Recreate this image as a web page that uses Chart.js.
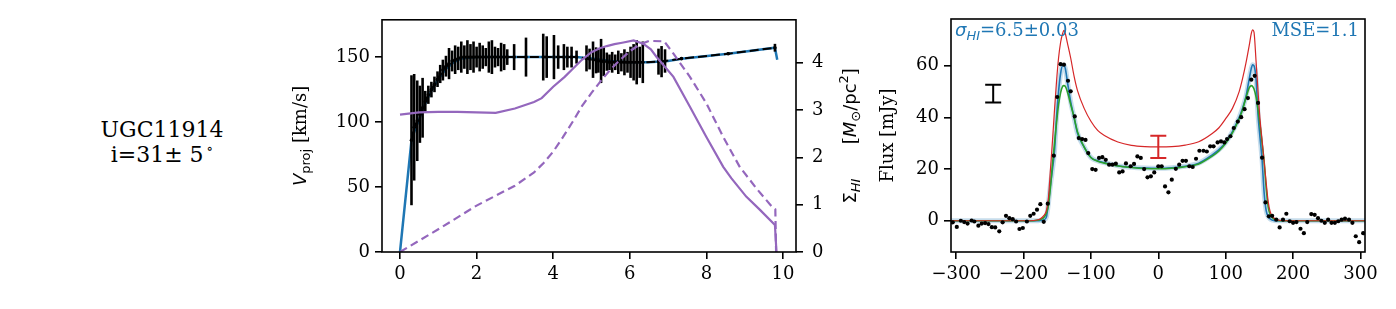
<!DOCTYPE html>
<html>
<head>
<meta charset="utf-8">
<script src="https://cdn.jsdelivr.net/npm/chart.js@4.4.0/dist/chart.umd.min.js"></script>
<style>
html, body { margin: 0; padding: 0; background: #fff; }
body { width: 1396px; height: 309px; position: relative; overflow: hidden; font-family: "DejaVu Serif", serif; }
#label { position: absolute; left: 60px; top: 117px; width: 204px; text-align: center; font-size: 22px; line-height: 25px; color: #000; }
#label .deg { font-size: 14px; position: relative; top: -9px; }
.box { position: absolute; top: 0; height: 309px; }
#rcBox { left: 280px; width: 600px; }
#fluxBox { left: 860px; width: 536px; }
</style>
</head>
<body>
<div id="label">UGC11914<br>i=31± 5<span class="deg">&thinsp;∘</span></div>
<div class="box" id="rcBox"><canvas id="rcChart" width="600" height="309"></canvas></div>
<div class="box" id="fluxBox"><canvas id="fluxChart" width="536" height="309"></canvas></div>
<script>
// rotation curve: observed points with error bars
var rcRadius = [0.30,0.37,0.45,0.52,0.59,0.66,0.74,0.82,0.90,0.98,1.05,1.12,1.20,1.28,1.36,1.44,1.52,1.60,1.68,1.76,1.84,1.92,2.00,2.08,2.16,2.24,2.32,2.40,2.48,2.56,2.64,2.72,2.80,2.98,3.29,3.74,3.83,4.02,4.13,4.28,4.37,4.48,4.61,4.87,4.95,5.04,5.12,5.18,5.25,5.32,5.40,5.47,5.54,5.62,5.70,5.78,5.86,5.94,6.02,6.10,6.18,6.26,6.34,6.75,6.83,6.92,7.35,8.57,9.79];
var rcVel = [86,96,101,106,111,116,121,125,129,133,137,140,143,145,147,148,149,150,150,150,150,150,150,150,150,150,150,150,150,150,150,150,150,150,150,150,150,150,150,150,150,150,150,149,148.5,148,147.5,147,147,146.5,146.5,146,146,146,146,146,146,146,146,146,146,146,146,146.5,146.5,147,148.8,152.6,157.2];
var rcErr = [50,41,31,22,23,8,7,6,6,6,7,8,8,12,8,11,9,12,9,13,10,12,8,11,9,7,12,13,8,7,11,10,6,10,15,18,16,17,9,10,8,8,5,10,8,14,10,9,17,11,7,6,8,6,9,7,10,8,12,14,17,12,16,10,12,9,1,1,3];

// rotation curve model
var modelRadius = [0,0.30,0.40,0.50,0.60,0.70,0.80,0.90,1.00,1.10,1.20,1.40,1.60,2.00,3.00,4.00,4.60,5.00,5.50,6.00,6.50,7.00,7.35,8.57,9.79,9.85];
var modelVel = [0,86,95,102,110,117,123,128,133,137,141,146,149,150,150,150,150,149,147,146,146,147,148.8,152.6,157.2,148];

// HI surface density profiles (right axis)
var sigmaRadius = [0,0.50,1.00,1.50,2.00,2.50,3.00,3.50,3.70,4.00,4.30,4.50,4.75,5.00,5.20,5.40,5.60,5.80,6.10,6.35,6.55,6.70,6.90,7.14,7.57,8.00,8.44,8.65,9.04,9.40,9.79,9.83];
var sigmaHI = [2.90,2.95,2.96,2.96,2.95,2.94,3.03,3.17,3.25,3.49,3.70,3.86,4.06,4.22,4.30,4.35,4.39,4.42,4.47,4.40,4.28,4.12,3.93,3.70,3.07,2.43,1.80,1.56,1.17,0.89,0.57,0];
var sigmaRadius2 = [0,1.00,2.00,2.50,3.00,3.50,3.75,4.00,4.25,4.50,4.75,5.00,5.25,5.50,5.75,6.00,6.25,6.50,6.90,7.14,7.57,8.00,8.44,8.87,9.30,9.74,9.80,9.82];
var sigmaHI2 = [0,0.48,0.98,1.19,1.40,1.68,1.88,2.12,2.42,2.74,3.08,3.36,3.62,3.86,4.06,4.24,4.38,4.46,4.45,4.19,3.70,3.14,2.43,1.80,1.35,0.93,0.90,0];

// HI line profile: observed channels
var fluxVel = [-305,-299,-293,-288,-283,-277,-273,-267,-262,-257,-252,-247,-242,-236,-231,-226,-221,-216,-211,-206,-201,-195,-190,-185,-180,-175,-170,-164,-155,-150,-145,-140,-134,-130,-124,-118,-113,-108,-104,-98,-93,-88,-83,-78,-73,-68,-63,-58,-53,-48,-41,-36,-31,-26,-21,-16,-11,-6,0,5,10,15,20,26,31,36,41,46,51,56,61,67,72,77,82,88,93,98,102,107,112,118,123,128,133,138,143,148,154,159,164,169,175,180,185,190,195,200,205,211,216,221,227,232,237,242,247,252,257,262,267,272,277,283,288,293,298,304];
var fluxObs = [-0.6,-2.4,0.0,-0.5,-1.1,0.1,-0.3,-1.9,-1.1,-0.9,-1.3,-2.5,-2.6,-4.1,-0.6,1.9,1.0,0.6,-0.3,-3.2,-2.8,-0.3,1.9,2.7,4.3,6.4,-0.4,6.6,25.2,47.9,60.6,60.4,54.2,50.1,40.4,32.0,31.6,31.3,26.2,20.0,19.7,24.3,24.6,23.6,21.7,21.7,22.1,18.7,19.1,22.2,21.1,22.0,24.9,24.3,20.0,16.8,17.2,18.7,21.1,21.1,13.3,11.0,15.9,20.1,21.7,23.2,23.2,21.1,20.8,24.0,27.1,27.1,26.8,28.8,28.8,30.3,30.7,30.3,31.6,32.7,35.9,38.4,40.1,43.2,47.5,54.6,56.1,45.6,24.4,7.1,1.7,1.9,0.4,-2.6,0.4,2.7,-0.2,-0.8,-0.5,-3.1,-4.8,-0.5,2.6,2.3,1.0,0.0,-0.8,0.4,-0.8,-0.8,-0.2,0.4,0.8,0.4,-0.8,-6.0,-8.3,-4.8];

// HI line profile: model curves
var profVel = [-308,-190,-180,-175,-170,-166,-163,-160,-157,-154,-151,-148,-145,-142,-140,-138,-135,-130,-125,-120,-110,-100,-90,-80,-60,-40,-20,0,20,40,60,80,90,100,110,120,125,130,135,138,140,142,145,148,151,154,157,160,163,166,170,175,180,190,307];
var profRed = [0,0,0.3,0.8,2,4,9,20,31,43,54,63,69,72.5,73.7,72.5,69,63,56,50.5,43.5,38.5,35,33,30.5,29.2,28.7,28.6,28.7,29.3,30.6,33.8,36,39.5,43.5,50,55,61,68,72.5,73.9,73,62,50,39,31,23,15,7.5,3.5,1.5,0.5,0.2,0,0];
var profBlue = [0,0,0,0.1,0.3,1.5,7,14,20,27,40,50,57,60,60,59,54,46,40,34,28.5,24.5,23.2,22.5,21.3,20.7,20.4,20.3,20.5,21.1,22.3,25.5,27.5,30.3,34.5,40,43.5,48,55,59,60.4,60,55,41,32,23.5,11,4,1.7,0.7,0.2,0,0,0,0];
var profGreen = [0,0,0.2,0.5,1.2,3,6,13,22,30,38,45,49.5,52,52.3,52,50,45,40,34.5,28.5,24.5,23,22.3,21.2,20.6,20.2,20.1,20.3,20.9,22,25,27,30,34,39.5,43,47.5,51.5,52.3,52,51,48,43,37,30,23,13,5.5,2.5,1,0.3,0,0,0];

// noise error bars drawn on the profile panel
var noiseVel = [-245, 0];
var noiseFlux = [49.2, 28.6];
var noiseHalf = [3.4, 4.3];

// tick labels
var rcXTicks = [0, 2, 4, 6, 8, 10];
var rcYTicks = [0, 50, 100, 150];
var sigmaTicks = [0, 1, 2, 3, 4];
var fluxXTicks = [-300, -200, -100, 0, 100, 200, 300];
var fluxYTicks = [0, 20, 40, 60];

var sigmaText = '=6.5\u00b10.03';
var mseText = 'MSE=1.1';

var BLUE = '#1f77b4', RED = '#d62728', GREEN = '#2ca02c', PURPLE = '#9467bd';
var SERIF = '"DejaVu Serif", serif';
var SANS = '"DejaVu Sans", sans-serif';

function pts(xs, ys) {
    return xs.map(function(x, i) { return {x: x, y: ys[i]}; });
}

function fixedTicks(list) {
    return function(scale) {
        scale.ticks = list.map(function(v) { return {value: v}; });
    };
}

function minusLabel(v) {
    return v < 0 ? '\u2212' + Math.abs(v) : String(v);
}

function drawRich(ctx, pieces, cx, cy, rotate, color) {
    ctx.save();
    ctx.translate(cx, cy);
    if (rotate) ctx.rotate(-Math.PI / 2);
    var total = 0;
    pieces.forEach(function(p) { ctx.font = p[1]; total += ctx.measureText(p[0]).width; });
    var x = rotate ? -total / 2 : 0;
    ctx.fillStyle = color || '#000';
    ctx.textBaseline = 'alphabetic';
    ctx.textAlign = 'left';
    pieces.forEach(function(p) {
        ctx.font = p[1];
        ctx.fillText(p[0], x, p[2]);
        x += ctx.measureText(p[0]).width;
    });
    ctx.restore();
}

function axisStyle(extra, pad) {
    var base = {
        type: 'linear',
        grid: {display: true, drawOnChartArea: false, drawTicks: true, tickLength: 7, color: '#000', lineWidth: 1.6},
        border: {display: false},
        ticks: {color: '#000', padding: pad || 5, font: {family: SERIF, size: 18}, callback: minusLabel, autoSkip: false, maxRotation: 0}
    };
    return Object.assign(base, extra);
}

// box around the plotting area
var frame = {
    id: 'frame',
    afterDatasetsDraw: function(chart) {
        var a = chart.chartArea, ctx = chart.ctx;
        ctx.save();
        ctx.strokeStyle = '#000';
        ctx.lineWidth = 1.6;
        ctx.strokeRect(a.left, a.top, a.right - a.left, a.bottom - a.top);
        ctx.restore();
    }
};

var errorBars = {
    id: 'errorBars',
    afterDatasetDraw: function(chart, args) {
        if (args.index !== 2) return;
        var ctx = chart.ctx, xs = chart.scales.x, ys = chart.scales.y;
        ctx.save();
        ctx.strokeStyle = '#000';
        ctx.lineWidth = 2.6;
        for (var i = 0; i < rcRadius.length; i++) {
            var px = xs.getPixelForValue(rcRadius[i]);
            ctx.beginPath();
            ctx.moveTo(px, ys.getPixelForValue(rcVel[i] - rcErr[i]));
            ctx.lineTo(px, ys.getPixelForValue(rcVel[i] + rcErr[i]));
            ctx.stroke();
        }
        ctx.restore();
    }
};

var rcTitles = {
    id: 'rcTitles',
    afterDraw: function(chart) {
        var ctx = chart.ctx, a = chart.chartArea, cy = (a.top + a.bottom) / 2;
        drawRich(ctx, [
            ['V', 'italic 18px ' + SANS, 0],
            ['proj', '13px ' + SANS, 4],
            [' [km/s]', '18px ' + SERIF, 0]
        ], 26, cy, true);
        drawRich(ctx, [
            ['\u03a3', '18px ' + SANS, 0],
            ['HI', 'italic 13px ' + SANS, 4],
            ['      [', '18px ' + SERIF, 0],
            ['M', 'italic 18px ' + SANS, 0],
            ['\u2299', '13px ' + SANS, 4],
            ['/pc', '18px ' + SANS, 0],
            ['2', '13px ' + SANS, -8],
            [']', '18px ' + SERIF, 0]
        ], 576, cy, true);
    }
};

var fluxExtras = {
    id: 'fluxExtras',
    afterDatasetsDraw: function(chart) {
        var ctx = chart.ctx, xs = chart.scales.x, ys = chart.scales.y;
        var colors = ['#000', RED];
        ctx.save();
        ctx.lineWidth = 2;
        for (var i = 0; i < noiseVel.length; i++) {
            var px = xs.getPixelForValue(noiseVel[i]);
            var top = ys.getPixelForValue(noiseFlux[i] + noiseHalf[i]);
            var bot = ys.getPixelForValue(noiseFlux[i] - noiseHalf[i]);
            ctx.strokeStyle = colors[i];
            ctx.beginPath();
            ctx.moveTo(px, top); ctx.lineTo(px, bot);
            ctx.moveTo(px - 8, top); ctx.lineTo(px + 8, top);
            ctx.moveTo(px - 8, bot); ctx.lineTo(px + 8, bot);
            ctx.stroke();
        }
        ctx.restore();
    },
    afterDraw: function(chart) {
        var ctx = chart.ctx, a = chart.chartArea;
        drawRich(ctx, [
            ['Flux [mJy]', '18px ' + SERIF, 0]
        ], 33, (a.top + a.bottom) / 2, true);
        drawRich(ctx, [
            ['\u03c3', 'italic 18px ' + SANS, 0],
            ['HI', 'italic 13px ' + SANS, 4],
            [sigmaText, '18px ' + SERIF, 0]
        ], a.left + 4, a.top + 17, false, BLUE);
        ctx.save();
        ctx.font = '18px ' + SERIF;
        ctx.fillStyle = BLUE;
        ctx.textAlign = 'right';
        ctx.fillText(mseText, a.right - 6, a.top + 17);
        ctx.restore();
    }
};

new Chart(document.getElementById('rcChart').getContext('2d'), {
    type: 'line',
    data: {
        datasets: [{
            data: pts(sigmaRadius, sigmaHI),
            yAxisID: 'y1', order: 0,
            borderColor: PURPLE, borderWidth: 2.2, pointRadius: 0
        }, {
            data: pts(sigmaRadius2, sigmaHI2),
            yAxisID: 'y1', order: 1,
            borderColor: PURPLE, borderWidth: 2.2, borderDash: [8, 4.5], pointRadius: 0
        }, {
            data: pts(rcRadius, rcVel),
            yAxisID: 'y', order: 2,
            borderColor: '#000', borderWidth: 2, borderDash: [9, 4],
            pointRadius: 1.8, pointBackgroundColor: '#000', pointBorderWidth: 0
        }, {
            data: pts(modelRadius, modelVel),
            yAxisID: 'y', order: 3,
            borderColor: BLUE, borderWidth: 2.5, pointRadius: 0
        }]
    },
    options: {
        responsive: false,
        animation: false,
        layout: {padding: {top: 18, left: 0, right: 0, bottom: 0}},
        plugins: {legend: {display: false}, tooltip: {enabled: false}},
        scales: {
            x: axisStyle({
                position: 'bottom', min: -0.47, max: 10.34,
                afterBuildTicks: fixedTicks(rcXTicks),
                afterFit: function(s) { s.height = 57; }
            }),
            y: axisStyle({
                position: 'left', min: 0, max: 178.7,
                afterBuildTicks: fixedTicks(rcYTicks),
                afterFit: function(s) { s.width = 102; }
            }),
            y1: axisStyle({
                position: 'right', min: 0, max: 4.905,
                afterBuildTicks: fixedTicks(sigmaTicks),
                afterFit: function(s) { s.width = 84; }
            }, 9)
        }
    },
    plugins: [errorBars, frame, rcTitles]
});

new Chart(document.getElementById('fluxChart').getContext('2d'), {
    type: 'line',
    data: {
        datasets: [{
            data: pts(fluxVel, fluxObs), order: 0,
            showLine: false, pointRadius: 2.1, pointBackgroundColor: '#000', pointBorderWidth: 0
        }, {
            data: pts(profVel, profRed), order: 1,
            borderColor: RED, borderWidth: 1.2, pointRadius: 0, cubicInterpolationMode: 'monotone'
        }, {
            data: pts(profVel, profGreen), order: 2,
            borderColor: GREEN, borderWidth: 1.6, pointRadius: 0, cubicInterpolationMode: 'monotone'
        }, {
            data: pts(profVel, profBlue), order: 3,
            borderColor: BLUE, borderWidth: 1.6, pointRadius: 0, cubicInterpolationMode: 'monotone'
        }, {
            data: pts(profVel, profBlue), order: 4,
            borderColor: 'rgba(31,119,180,0.25)', borderWidth: 5, pointRadius: 0, cubicInterpolationMode: 'monotone'
        }]
    },
    options: {
        responsive: false,
        animation: false,
        layout: {padding: {top: 19, left: 0, right: 31, bottom: 0}},
        plugins: {legend: {display: false}, tooltip: {enabled: false}},
        scales: {
            x: axisStyle({
                position: 'bottom', min: -307.6, max: 306.7,
                afterBuildTicks: fixedTicks(fluxXTicks),
                afterFit: function(s) { s.height = 57; }
            }),
            y: axisStyle({
                position: 'left', min: -12.1, max: 78.1,
                afterBuildTicks: fixedTicks(fluxYTicks),
                afterFit: function(s) { s.width = 91; }
            })
        }
    },
    plugins: [fluxExtras, frame]
});
</script>
</body>
</html>
